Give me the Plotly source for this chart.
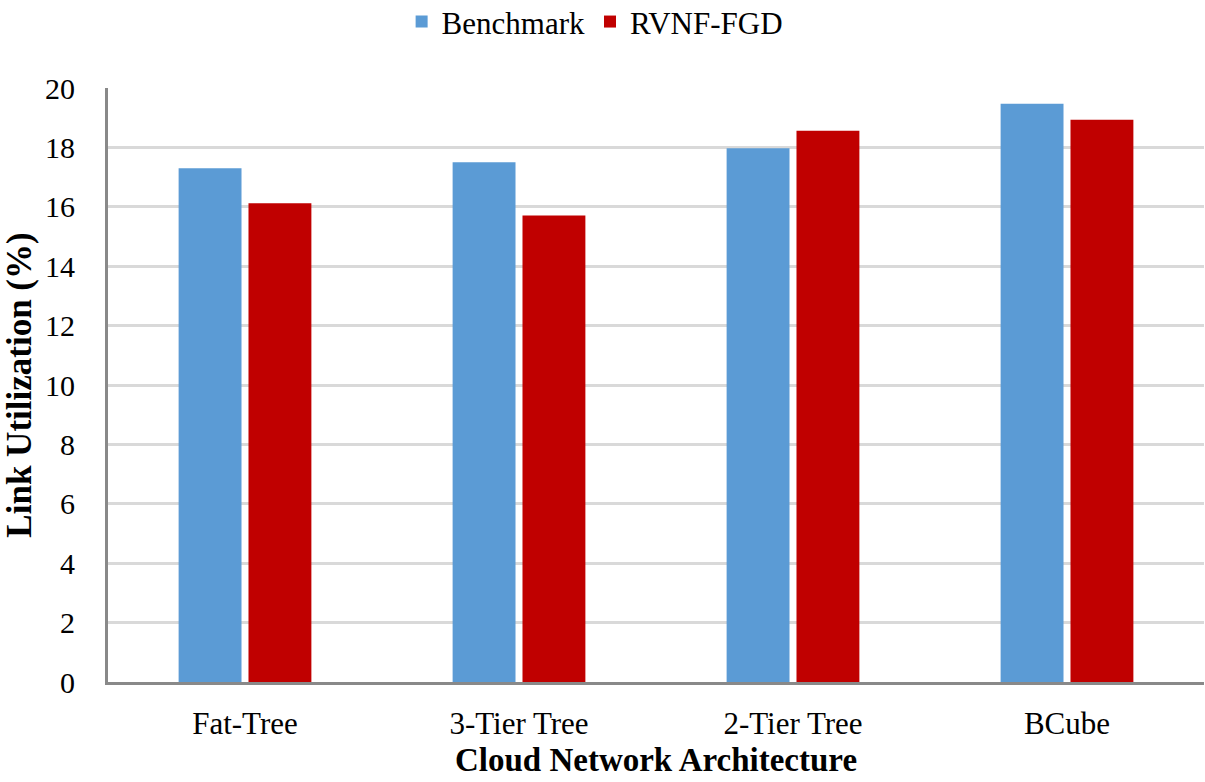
import plotly.graph_objects as go

# Link utilization per cloud network architecture
architectures = ["Fat-Tree", "3-Tier Tree", "2-Tier Tree", "BCube"]
benchmark = [17.3, 17.5, 17.97, 19.47]
rvnf_fgd = [16.12, 15.71, 18.56, 18.93]

SERIF = "Liberation Serif"

fig = go.Figure()
fig.add_trace(go.Bar(name="Benchmark", x=architectures, y=benchmark,
                     marker=dict(color="#5b9bd5", line=dict(width=0))))
fig.add_trace(go.Bar(name="RVNF-FGD", x=architectures, y=rvnf_fgd,
                     marker=dict(color="#c00000", line=dict(width=0))))

fig.update_layout(
    width=1205, height=782,
    margin=dict(l=108, r=1, t=88, b=100),
    paper_bgcolor="white", plot_bgcolor="white",
    barmode="group", bargap=0.49, bargroupgap=0.1,
    font=dict(family=SERIF, size=30, color="black"),
    legend=dict(orientation="h", x=0.444, xanchor="center", y=0.972,
                yref="container", yanchor="middle",
                font=dict(family=SERIF, size=31, color="black"),
                itemwidth=30, traceorder="normal"),
    xaxis=dict(
        showline=True, linecolor="#898989", linewidth=3,
        showgrid=False, ticks="",
        tickfont=dict(family=SERIF, size=31, color="black"),
        ticklabelstandoff=12,
        title=dict(text="<b>Cloud Network Architecture</b>",
                   font=dict(family=SERIF, size=33, color="black"), standoff=8),
    ),
    yaxis=dict(
        range=[0, 20], dtick=2, showline=True, linecolor="#898989", linewidth=3,
        showgrid=True, gridcolor="#d9d9d9", gridwidth=3, zeroline=False,
        ticks="", tickfont=dict(family=SERIF, size=30, color="black"),
        ticklabelstandoff=24,
        title=dict(text="<b>Link Utilization (%)</b>",
                   font=dict(family=SERIF, size=35, color="black"), standoff=8),
    ),
)

fig.write_html("out.html")
